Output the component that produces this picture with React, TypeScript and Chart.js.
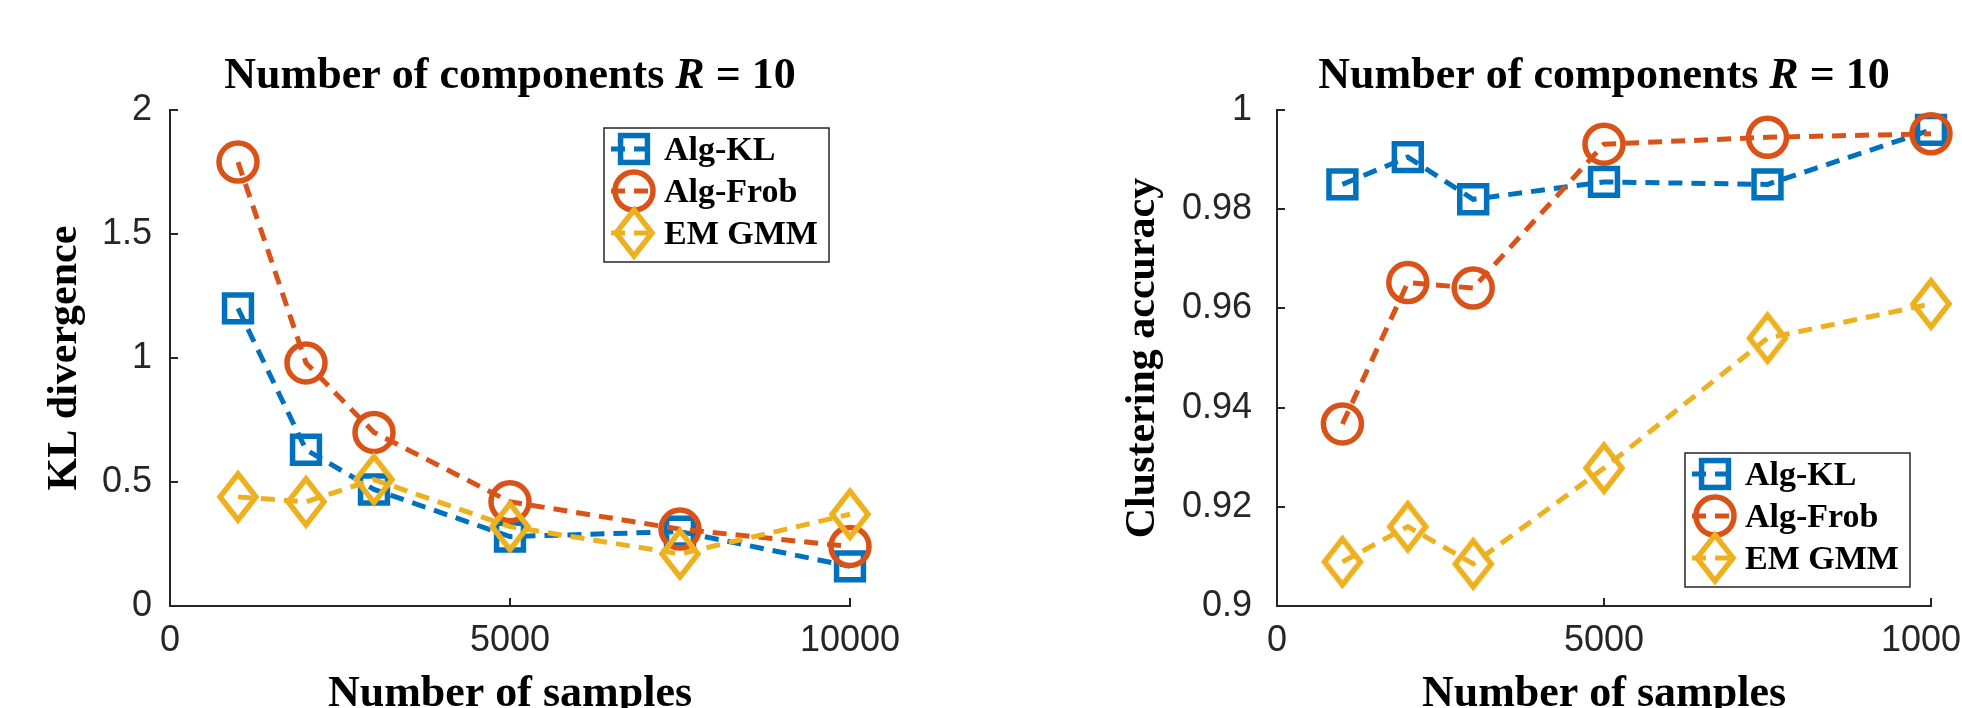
import React, { useEffect, useRef } from 'react';
import { Chart, registerables } from 'chart.js';

Chart.register(...registerables);

// ---------- data ----------
const samples = [1000, 2000, 3000, 5000, 7500, 10000];
const seriesNames = ['Alg-KL', 'Alg-Frob', 'EM GMM'];

const klAlgKL = [1.2, 0.63, 0.47, 0.28, 0.3, 0.16];
const klAlgFrob = [1.79, 0.98, 0.7, 0.42, 0.31, 0.24];
const klEmGmm = [0.44, 0.42, 0.51, 0.32, 0.21, 0.37];

const accAlgKL = [0.985, 0.9905, 0.982, 0.9855, 0.985, 0.996];
const accAlgFrob = [0.9367, 0.9652, 0.9641, 0.9931, 0.9945, 0.9952];
const accEmGmm = [0.9089, 0.916, 0.9085, 0.9278, 0.954, 0.9609];

const xTicks = [0, 5000, 10000];
const xTickLabels = ['0', '5000', '10000'];
const klTicks = [0, 0.5, 1, 1.5, 2];
const klTickLabels = ['0', '0.5', '1', '1.5', '2'];
const accTicks = [0.9, 0.92, 0.94, 0.96, 0.98, 1];
const accTickLabels = ['0.9', '0.92', '0.94', '0.96', '0.98', '1'];

const titleMain = 'Number of components ';
const titleVar = 'R';
const titleRest = ' = 10';
const xTitle = 'Number of samples';
const klTitle = 'KL divergence';
const accTitle = 'Clustering accuracy';

// ---------- styles ----------
const COLORS = ['#0072BD', '#D95319', '#EDB120'];
const AXIS = '#262626';
const SERIF = '"Liberation Serif", "Times New Roman", serif';
const SANS = '"Liberation Sans", Arial, sans-serif';
const CANVAS_H = 730;

function makeDiamond(color: string) {
  const c = document.createElement('canvas');
  const hw = 18, hh = 23, pad = 7;
  c.width = 2 * (hw + pad);
  c.height = 2 * (hh + pad);
  const g = c.getContext('2d')!;
  const cx = c.width / 2, cy = c.height / 2;
  g.strokeStyle = color;
  g.lineWidth = 5.5;
  g.lineJoin = 'miter';
  g.beginPath();
  g.moveTo(cx, cy - hh);
  g.lineTo(cx + hw, cy);
  g.lineTo(cx, cy + hh);
  g.lineTo(cx - hw, cy);
  g.closePath();
  g.stroke();
  return c;
}

function drawMarker(ctx: CanvasRenderingContext2D, ds: any, x: number, y: number) {
  const style = ds.pointStyle;
  ctx.save();
  ctx.setLineDash([]);
  ctx.strokeStyle = ds.pointBorderColor;
  ctx.lineWidth = ds.pointBorderWidth;
  if (typeof style === 'object') {
    ctx.drawImage(style, x - style.width / 2, y - style.height / 2);
  } else if (style === 'circle') {
    ctx.beginPath();
    ctx.arc(x, y, ds.pointRadius, 0, Math.PI * 2);
    ctx.stroke();
  } else if (style === 'rect') {
    const s = Math.SQRT1_2 * ds.pointRadius;
    ctx.strokeRect(x - s, y - s, 2 * s, 2 * s);
  }
  ctx.restore();
}

const titlePlugin = {
  id: 'mathTitle',
  afterDraw(chart: any) {
    const { ctx, chartArea } = chart;
    const up = `bold 44px ${SERIF}`;
    const it = `italic bold 44px ${SERIF}`;
    const parts: [string, string][] = [[titleMain, up], [titleVar, it], [titleRest, up]];
    ctx.save();
    let total = 0;
    const widths = parts.map(([t, f]) => {
      ctx.font = f;
      const w = ctx.measureText(t).width;
      total += w;
      return w;
    });
    let x = (chartArea.left + chartArea.right) / 2 - total / 2;
    ctx.fillStyle = '#000';
    ctx.textAlign = 'left';
    ctx.textBaseline = 'alphabetic';
    parts.forEach(([t, f], i) => {
      ctx.font = f;
      ctx.fillText(t, x, 88);
      x += widths[i];
    });
    ctx.restore();
  },
};

const innerTicksPlugin = {
  id: 'innerTicks',
  beforeDatasetsDraw(chart: any) {
    const { ctx, chartArea, scales } = chart;
    ctx.save();
    ctx.strokeStyle = AXIS;
    ctx.lineWidth = 2;
    ctx.beginPath();
    scales.x.ticks.forEach((t: any) => {
      const px = Math.round(scales.x.getPixelForValue(t.value));
      ctx.moveTo(px, chartArea.bottom);
      ctx.lineTo(px, chartArea.bottom - 8);
    });
    scales.y.ticks.forEach((t: any) => {
      const py = Math.round(scales.y.getPixelForValue(t.value));
      ctx.moveTo(chartArea.left, py);
      ctx.lineTo(chartArea.left + 8, py);
    });
    ctx.stroke();
    ctx.restore();
  },
};

const boxLegendPlugin = {
  id: 'boxLegend',
  afterDraw(chart: any, _args: any, opts: any) {
    const { ctx, chartArea } = chart;
    const w = 225, h = 134;
    const x0 = chartArea.right - 21 - w;
    const y0 = opts.corner === 'top' ? chartArea.top + 18 : chartArea.bottom - 19 - h;
    ctx.save();
    ctx.fillStyle = '#fff';
    ctx.fillRect(x0, y0, w, h);
    ctx.strokeStyle = AXIS;
    ctx.lineWidth = 1.5;
    ctx.strokeRect(x0, y0, w, h);
    chart.data.datasets.forEach((ds: any, i: number) => {
      const base = y0 + 32 + i * 42;
      const cy = base - 11;
      ctx.save();
      ctx.beginPath();
      ctx.setLineDash(ds.borderDash);
      ctx.strokeStyle = ds.borderColor;
      ctx.lineWidth = ds.borderWidth;
      ctx.moveTo(x0 + 7, cy);
      ctx.lineTo(x0 + 53, cy);
      ctx.stroke();
      ctx.restore();
      drawMarker(ctx, ds, x0 + 30, cy);
      ctx.fillStyle = '#000';
      ctx.font = `bold 34px ${SERIF}`;
      ctx.textAlign = 'left';
      ctx.textBaseline = 'alphabetic';
      ctx.fillText(ds.label, x0 + 60, base);
    });
    ctx.restore();
  },
};

function buildDatasets(values: number[][]) {
  const styles: any[] = ['rect', 'circle', makeDiamond(COLORS[2])];
  return values.map((vals, i) => ({
    label: seriesNames[i],
    data: samples.map((s, k) => ({ x: s, y: vals[k] })),
    borderColor: COLORS[i],
    borderWidth: 5,
    borderDash: [14, 9],
    pointStyle: styles[i],
    pointRadius: 19,
    pointBorderWidth: 5.5,
    pointBorderColor: COLORS[i],
    pointBackgroundColor: 'rgba(0,0,0,0)',
    tension: 0,
    fill: false,
    clip: false,
    order: 3 - i,
  }));
}

function makeConfig(p: {
  values: number[][];
  yMin: number;
  yMax: number;
  yTicks: number[];
  yLabels: string[];
  yTitle: string;
  yWidth: number;
  yTickPad: number;
  yTitlePad: number;
  padRight: number;
  legendCorner: string;
}): any {
  return {
    type: 'line',
    data: { datasets: buildDatasets(p.values) },
    options: {
      animation: false,
      responsive: false,
      maintainAspectRatio: false,
      events: [],
      layout: { padding: { top: 110, right: p.padRight, bottom: 0, left: 0 } },
      plugins: {
        legend: { display: false },
        tooltip: { enabled: false },
        title: { display: false },
        boxLegend: { corner: p.legendCorner },
      },
      scales: {
        x: {
          type: 'linear',
          min: 0,
          max: 10000,
          afterBuildTicks: (s: any) => {
            s.ticks = xTicks.map((v) => ({ value: v }));
          },
          afterFit: (s: any) => {
            s.height = CANVAS_H - 606;
          },
          grid: { display: false, drawTicks: false },
          border: { display: true, color: AXIS, width: 2 },
          ticks: {
            autoSkip: false,
            maxRotation: 0,
            padding: 13,
            color: AXIS,
            font: { family: SANS, size: 36 },
            callback: (_v: any, i: number) => xTickLabels[i],
          },
          title: {
            display: true,
            text: xTitle,
            color: '#000',
            font: { family: SERIF, size: 44, weight: 'bold' },
            padding: { top: 0, bottom: 9 },
          },
        },
        y: {
          type: 'linear',
          min: p.yMin,
          max: p.yMax,
          afterBuildTicks: (s: any) => {
            s.ticks = p.yTicks.map((v) => ({ value: v }));
          },
          afterFit: (s: any) => {
            s.width = p.yWidth;
          },
          grid: { display: false, drawTicks: false },
          border: { display: true, color: AXIS, width: 2 },
          ticks: {
            autoSkip: false,
            padding: p.yTickPad,
            color: AXIS,
            font: { family: SANS, size: 36 },
            callback: (_v: any, i: number) => p.yLabels[i],
          },
          title: {
            display: true,
            text: p.yTitle,
            color: '#000',
            font: { family: SERIF, size: 42, weight: 'bold' },
            padding: { top: p.yTitlePad, bottom: 0 },
          },
        },
      },
    },
    plugins: [innerTicksPlugin, titlePlugin, boxLegendPlugin],
  };
}

export default function App() {
  const leftRef = useRef<HTMLCanvasElement>(null);
  const rightRef = useRef<HTMLCanvasElement>(null);

  useEffect(() => {
    const left = new Chart(
      leftRef.current!,
      makeConfig({
        values: [klAlgKL, klAlgFrob, klEmGmm],
        yMin: 0,
        yMax: 2,
        yTicks: klTicks,
        yLabels: klTickLabels,
        yTitle: klTitle,
        yWidth: 170,
        yTickPad: 18,
        yTitlePad: 40,
        padRight: 981 - 850,
        legendCorner: 'top',
      })
    );
    const right = new Chart(
      rightRef.current!,
      makeConfig({
        values: [accAlgKL, accAlgFrob, accEmGmm],
        yMin: 0.9,
        yMax: 1,
        yTicks: accTicks,
        yLabels: accTickLabels,
        yTitle: accTitle,
        yWidth: 296,
        yTickPad: 25,
        yTitlePad: 137,
        padRight: 150,
        legendCorner: 'bottom',
      })
    );
    return () => {
      left.destroy();
      right.destroy();
    };
  }, []);

  return (
    <div
      style={{
        position: 'fixed',
        left: 0,
        top: 0,
        width: 1962,
        height: 708,
        overflow: 'hidden',
        background: '#fff',
      }}
    >
      <canvas
        ref={leftRef}
        width={981}
        height={CANVAS_H}
        style={{ position: 'absolute', left: 0, top: 0, width: 981, height: CANVAS_H }}
      />
      <canvas
        ref={rightRef}
        width={1100}
        height={CANVAS_H}
        style={{ position: 'absolute', left: 981, top: 0, width: 1100, height: CANVAS_H }}
      />
    </div>
  );
}
